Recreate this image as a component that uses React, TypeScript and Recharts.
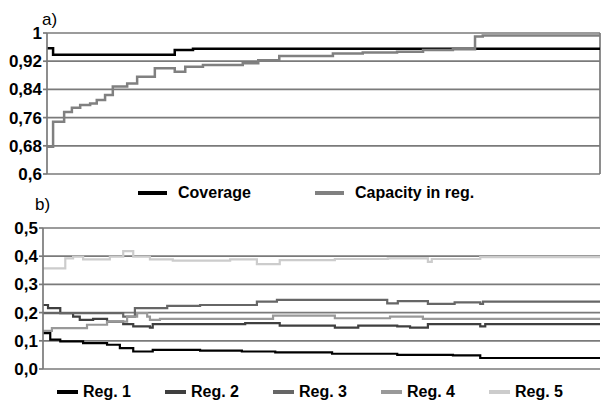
import React from 'react'
import { LineChart, Line, XAxis, YAxis, CartesianGrid, ReferenceLine } from 'recharts'

// step position (0-100 along the run) and value
const coverage = [
  [0, 0.957], [1.1, 0.938], [23.1, 0.952], [26.4, 0.955], [100, 0.955],
]
const capacity = [
  [0, 0.677], [1.1, 0.748], [3.1, 0.776], [4.5, 0.788], [6.0, 0.796], [7.8, 0.8],
  [9.0, 0.81], [10.5, 0.824], [11.9, 0.848], [14.5, 0.857], [16.3, 0.876], [19.5, 0.9],
  [23.1, 0.89], [25.0, 0.904], [28.2, 0.909], [35.4, 0.914], [38.2, 0.923], [42.0, 0.935],
  [51.7, 0.942], [57.1, 0.945], [63.3, 0.947], [68.0, 0.952], [73.4, 0.954], [77.4, 0.99],
  [78.8, 0.993], [100, 0.993],
]
const reg1 = [
  [0, 0.127], [1.3, 0.104], [3.1, 0.098], [7.2, 0.092], [11.5, 0.086], [13.8, 0.074],
  [16.2, 0.062], [19.7, 0.068], [28.2, 0.065], [35.7, 0.062], [41.7, 0.059], [51.9, 0.054],
  [63.6, 0.05], [73.6, 0.048], [78.5, 0.039], [100, 0.039],
]
const reg2 = [
  [0, 0.227], [0.9, 0.216], [3.1, 0.198], [5.4, 0.186], [6.6, 0.174], [9.0, 0.178],
  [11.5, 0.168], [14.4, 0.159], [16.2, 0.151], [19.2, 0.147], [19.7, 0.159], [36.3, 0.163],
  [42.5, 0.154], [52.4, 0.147], [56.6, 0.154], [63.6, 0.151], [65.9, 0.147], [69.1, 0.159],
  [78.5, 0.151], [79.4, 0.159], [100, 0.159],
]
const reg3 = [
  [0, 0.198], [14.4, 0.186], [16.5, 0.216], [22.3, 0.224], [28.2, 0.227], [38.4, 0.239],
  [42.0, 0.245], [61.8, 0.233], [63.7, 0.241], [69.1, 0.231], [73.9, 0.236], [78.5, 0.231],
  [79.0, 0.239], [100, 0.239],
]
const reg4 = [
  [0, 0.135], [1.6, 0.145], [7.9, 0.157], [11.5, 0.168], [15.1, 0.186], [16.9, 0.198],
  [18.7, 0.186], [19.2, 0.174], [21.0, 0.178], [41.3, 0.189], [52.4, 0.18], [62.3, 0.186],
  [68.2, 0.178], [100, 0.178],
]
const reg5 = [
  [0, 0.357], [4.0, 0.392], [5.4, 0.398], [7.2, 0.389], [12.0, 0.398], [14.4, 0.418],
  [16.2, 0.398], [19.2, 0.389], [23.3, 0.384], [33.6, 0.389], [38.4, 0.372], [42.5, 0.386],
  [52.4, 0.39], [61.9, 0.392], [69.1, 0.38], [69.8, 0.39], [78.5, 0.397], [100, 0.397],
]

const topTicks = [0.6, 0.68, 0.76, 0.84, 0.92, 1]
const bottomTicks = [0, 0.1, 0.2, 0.3, 0.4, 0.5]

const topSeries = [
  { name: 'Coverage', points: coverage, color: '#000000', width: 2.5 },
  { name: 'Capacity in reg.', points: capacity, color: '#808080', width: 2.5 },
]
const bottomSeries = [
  { name: 'Reg. 1', points: reg1, color: '#000000', width: 2.2 },
  { name: 'Reg. 2', points: reg2, color: '#3f3f3f', width: 2.2 },
  { name: 'Reg. 3', points: reg3, color: '#666666', width: 2.2 },
  { name: 'Reg. 4', points: reg4, color: '#999999', width: 2.2 },
  { name: 'Reg. 5', points: reg5, color: '#cccccc', width: 2.2 },
]

const toRows = (pts: number[][]) => pts.map(([x, y]) => ({ x, y }))

const gridColor = '#7a7a7a'
const tickStyle = { fill: '#000', fontSize: 17, fontWeight: 'bold' as const }

function LegendRow({ items, left, step, top, lineLen, gap }: any) {
  return (
    <div style={{ position: 'absolute', top, left: 0, width: 603, height: 20 }}>
      {items.map((s: any, i: number) => (
        <div
          key={s.name}
          style={{
            position: 'absolute',
            left: left + i * step,
            top: 0,
            display: 'flex',
            alignItems: 'center',
            height: 20,
            whiteSpace: 'nowrap',
          }}
        >
          <span style={{ display: 'inline-block', width: lineLen, height: 4, background: s.color }} />
          <span style={{ marginLeft: gap, fontSize: 16, fontWeight: 'bold', color: '#000' }}>{s.name}</span>
        </div>
      ))}
    </div>
  )
}

export default function App() {
  return (
    <div
      style={{
        position: 'absolute',
        left: 0,
        top: 0,
        width: 603,
        height: 403,
        background: '#fff',
        fontFamily: '"Liberation Sans", Arial, sans-serif',
        overflow: 'hidden',
      }}
    >
      <div style={{ position: 'absolute', left: 42, top: 10, fontSize: 17 }}>a)</div>
      <div style={{ position: 'absolute', left: 35, top: 195, fontSize: 17 }}>b)</div>

      <div style={{ position: 'absolute', left: 0, top: 0 }}>
        <LineChart width={603} height={192} margin={{ top: 33, right: 3, bottom: 18, left: 0 }}>
          <CartesianGrid vertical={false} stroke={gridColor} strokeWidth={1.7} />
          <XAxis dataKey="x" type="number" domain={[0, 100]} hide />
          <YAxis
            width={47}
            domain={[0.6, 1]}
            ticks={topTicks}
            interval={0}
            tickFormatter={(v: number) => String(v).replace('.', ',')}
            tick={tickStyle}
            tickSize={4}
            tickMargin={1}
            stroke={gridColor}
            strokeWidth={1.7}
          />
          <ReferenceLine x={100} stroke={gridColor} strokeWidth={1.7} />
          {topSeries.map((s) => (
            <Line
              key={s.name}
              data={toRows(s.points)}
              dataKey="y"
              name={s.name}
              type="stepAfter"
              stroke={s.color}
              strokeWidth={s.width}
              dot={false}
              isAnimationActive={false}
            />
          ))}
        </LineChart>
      </div>
      <LegendRow items={topSeries} left={138} step={177} top={183} lineLen={29} gap={11} />

      <div style={{ position: 'absolute', left: 0, top: 200 }}>
        <LineChart width={603} height={188} margin={{ top: 28, right: 3, bottom: 19, left: 0 }}>
          <CartesianGrid vertical={false} stroke={gridColor} strokeWidth={1.7} />
          <XAxis dataKey="x" type="number" domain={[0, 100]} hide />
          <YAxis
            width={43}
            domain={[0, 0.5]}
            ticks={bottomTicks}
            interval={0}
            tickFormatter={(v: number) => v.toFixed(1).replace('.', ',')}
            tick={tickStyle}
            tickSize={4}
            tickMargin={1}
            stroke={gridColor}
            strokeWidth={1.7}
          />
          {bottomSeries.map((s) => (
            <Line
              key={s.name}
              data={toRows(s.points)}
              dataKey="y"
              name={s.name}
              type="stepAfter"
              stroke={s.color}
              strokeWidth={s.width}
              dot={false}
              isAnimationActive={false}
            />
          ))}
        </LineChart>
      </div>
      <LegendRow items={bottomSeries} left={57} step={108} top={382} lineLen={21} gap={5} />
    </div>
  )
}
